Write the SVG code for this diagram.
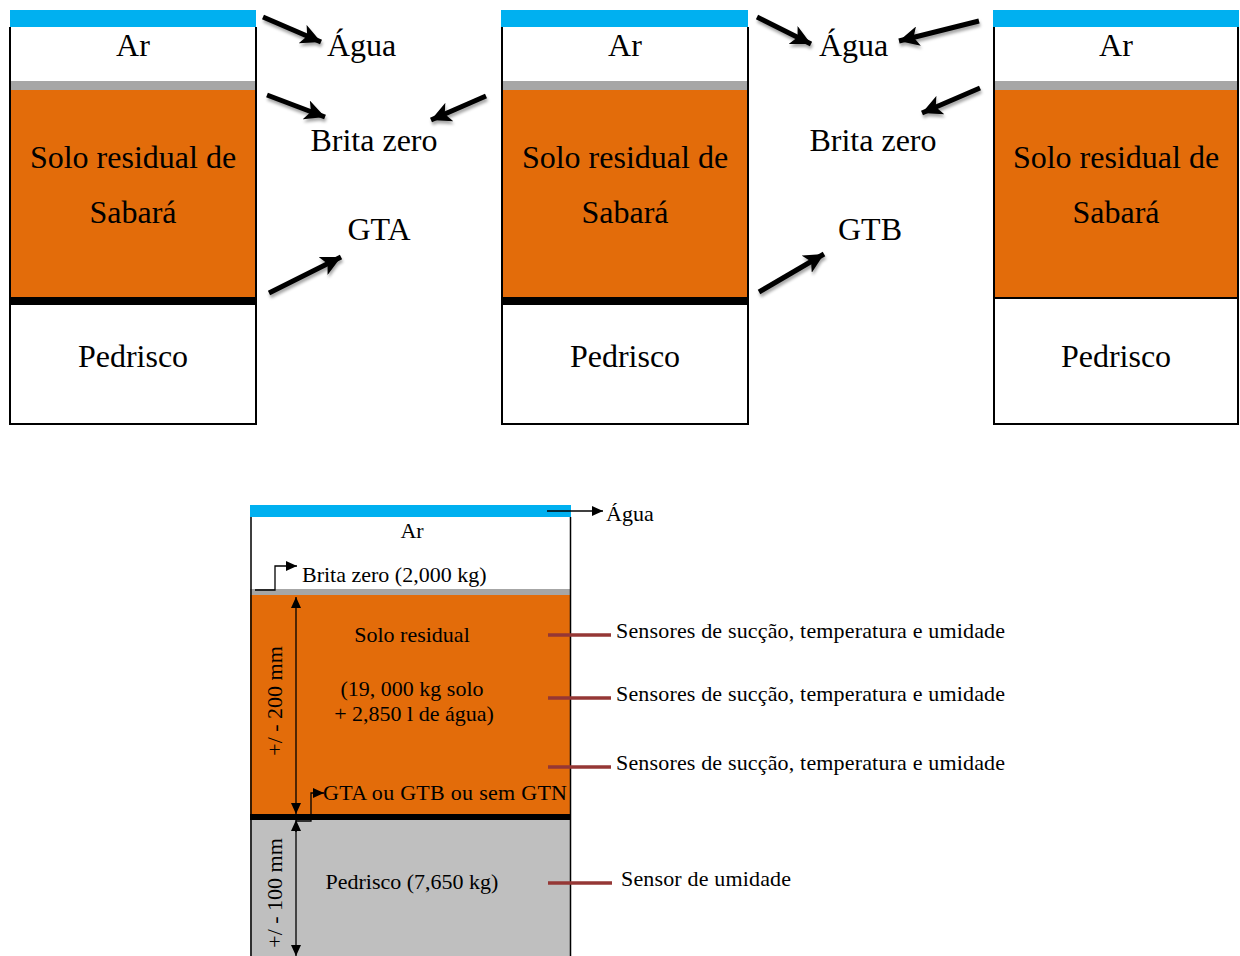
<svg xmlns="http://www.w3.org/2000/svg" width="1240" height="956" viewBox="0 0 1240 956">
<style>
.t{font-family:"Liberation Serif","Times New Roman",serif;fill:#000}
.big{font-size:32px}
.sm{font-size:22px}
.bar{stroke:#000;stroke-width:5}
.thin{stroke:#000;stroke-width:1.3;fill:none}
.sens{stroke:#953735;stroke-width:3.5}
.out{fill:none;stroke:#000;stroke-width:2}
</style>
<defs>
<marker id="ah" markerUnits="userSpaceOnUse" markerWidth="22" markerHeight="20" refX="20" refY="10" orient="auto"><path d="M0,0 L20,10 L0,20 L5,10 z" fill="#000"/></marker>
<marker id="sh" markerUnits="userSpaceOnUse" markerWidth="12" markerHeight="12" refX="11" refY="6" orient="auto"><path d="M0,1 L11,6 L0,11 z" fill="#000"/></marker>
<filter id="ds" x="-20%" y="-20%" width="140%" height="160%"><feDropShadow dx="1" dy="3" stdDeviation="1.5" flood-color="#000" flood-opacity="0.35"/></filter>
</defs>

<g id="col1">
<rect x="10" y="10" width="246" height="17" fill="#00B0F0"/>
<rect x="10" y="81" width="246" height="9" fill="#A6A6A6"/>
<rect x="10" y="90" width="246" height="207" fill="#E36C0A"/>
<rect x="10" y="297" width="246" height="8" fill="#000"/>
<path class="out" d="M10,27 V424 H256 V27"/>
<text class="t big" x="133" y="56" text-anchor="middle">Ar</text>
<text class="t big" x="133" y="168" text-anchor="middle">Solo residual de</text>
<text class="t big" x="133" y="223" text-anchor="middle">Sabará</text>
<text class="t big" x="133" y="367" text-anchor="middle">Pedrisco</text>
</g>
<g id="col2">
<rect x="501" y="10" width="247" height="17" fill="#00B0F0"/>
<rect x="501" y="81" width="247" height="9" fill="#A6A6A6"/>
<rect x="501" y="90" width="247" height="207" fill="#E36C0A"/>
<rect x="501" y="297" width="247" height="8" fill="#000"/>
<path class="out" d="M502,27 V424 H748 V27"/>
<text class="t big" x="625" y="56" text-anchor="middle">Ar</text>
<text class="t big" x="625" y="168" text-anchor="middle">Solo residual de</text>
<text class="t big" x="625" y="223" text-anchor="middle">Sabará</text>
<text class="t big" x="625" y="367" text-anchor="middle">Pedrisco</text>
</g>
<g id="col3">
<rect x="993" y="10" width="246" height="17" fill="#00B0F0"/>
<rect x="993" y="81" width="246" height="9" fill="#A6A6A6"/>
<rect x="993" y="90" width="246" height="207" fill="#E36C0A"/>
<line x1="993" y1="298" x2="1239" y2="298" stroke="#000" stroke-width="2"/>
<path class="out" d="M994,27 V424 H1238 V27"/>
<text class="t big" x="1116" y="56" text-anchor="middle">Ar</text>
<text class="t big" x="1116" y="168" text-anchor="middle">Solo residual de</text>
<text class="t big" x="1116" y="223" text-anchor="middle">Sabará</text>
<text class="t big" x="1116" y="367" text-anchor="middle">Pedrisco</text>
</g>
<g id="labels-top">
<text class="t big" x="327" y="56">Água</text>
<text class="t big" x="374" y="151" text-anchor="middle">Brita zero</text>
<text class="t big" x="379" y="240" text-anchor="middle">GTA</text>
<text class="t big" x="819" y="56">Água</text>
<text class="t big" x="873" y="151" text-anchor="middle">Brita zero</text>
<text class="t big" x="870" y="240" text-anchor="middle">GTB</text>
</g>
<g id="connectors-top" filter="url(#ds)">
<line class="bar" x1="263" y1="17" x2="321" y2="42" marker-end="url(#ah)"/>
<line class="bar" x1="267" y1="95" x2="325" y2="117" marker-end="url(#ah)"/>
<line class="bar" x1="486" y1="96" x2="431" y2="120" marker-end="url(#ah)"/>
<line class="bar" x1="269" y1="293" x2="341" y2="257" marker-end="url(#ah)"/>
<line class="bar" x1="757" y1="17" x2="811" y2="44" marker-end="url(#ah)"/>
<line class="bar" x1="979" y1="21" x2="899" y2="41" marker-end="url(#ah)"/>
<line class="bar" x1="980" y1="88" x2="922" y2="113" marker-end="url(#ah)"/>
<line class="bar" x1="759" y1="292" x2="824" y2="254" marker-end="url(#ah)"/>
</g>

<g id="profile">
<rect x="250" y="505" width="321" height="12" fill="#00B0F0"/>
<rect x="250" y="589" width="321" height="6" fill="#A6A6A6"/>
<rect x="250" y="595" width="321" height="219" fill="#E36C0A"/>
<rect x="250" y="814" width="321" height="6" fill="#000"/>
<rect x="250" y="820" width="321" height="136" fill="#BFBFBF"/>
<path d="M251,517 V956 M570.5,517 V956" stroke="#000" stroke-width="1.5" fill="none"/>
<text class="t sm" x="412" y="538" text-anchor="middle">Ar</text>
<text class="t sm" x="302" y="582">Brita zero (2,000 kg)</text>
<text class="t sm" x="412" y="642" text-anchor="middle">Solo residual</text>
<text class="t sm" x="412" y="696" text-anchor="middle">(19, 000 kg solo</text>
<text class="t sm" x="414" y="721" text-anchor="middle">+ 2,850 l de água)</text>
<text class="t sm" x="323" y="800" textLength="244">GTA ou GTB ou sem GTN</text>
<text class="t sm" x="412" y="889" text-anchor="middle">Pedrisco (7,650 kg)</text>
<text class="t sm" transform="translate(282,701) rotate(-90)" text-anchor="middle">+/ - 200 mm</text>
<text class="t sm" transform="translate(282,893) rotate(-90)" text-anchor="middle">+/ - 100 mm</text>
</g>
<g id="profile-labels">
<text class="t sm" x="606" y="521">Água</text>
<text class="t sm" x="616" y="638" textLength="389">Sensores de sucção, temperatura e umidade</text>
<text class="t sm" x="616" y="701" textLength="389">Sensores de sucção, temperatura e umidade</text>
<text class="t sm" x="616" y="770" textLength="389">Sensores de sucção, temperatura e umidade</text>
<text class="t sm" x="621" y="886" textLength="170">Sensor de umidade</text>
</g>
<g id="connectors-bottom">
<line class="thin" x1="547" y1="511" x2="603" y2="511" marker-end="url(#sh)"/>
<path class="thin" d="M255,590 H275 V566 H297" marker-end="url(#sh)"/>
<path class="thin" d="M296,821 H311 V793 H324" marker-end="url(#sh)"/>
<line class="thin" x1="296" y1="608" x2="296" y2="597" marker-end="url(#sh)"/>
<line class="thin" x1="296" y1="600" x2="296" y2="814" marker-end="url(#sh)"/>
<line class="thin" x1="296" y1="832" x2="296" y2="820" marker-end="url(#sh)"/>
<line class="thin" x1="296" y1="822" x2="296" y2="956" marker-end="url(#sh)"/>
<line class="sens" x1="548" y1="635" x2="611" y2="635"/>
<line class="sens" x1="548" y1="698" x2="611" y2="698"/>
<line class="sens" x1="548" y1="767" x2="611" y2="767"/>
<line class="sens" x1="548" y1="883" x2="612" y2="883"/>
</g>
</svg>
